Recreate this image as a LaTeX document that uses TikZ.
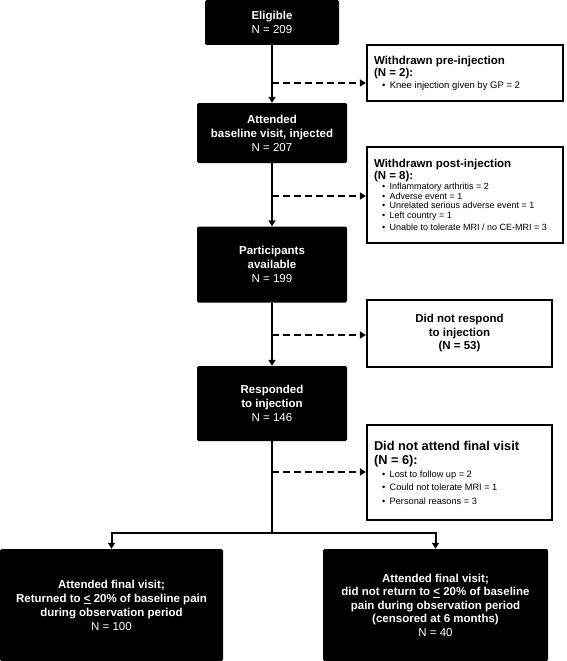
\documentclass[tikz,border=0pt]{standalone}
\usepackage{fontspec}
\setmainfont{Liberation Sans}
\usetikzlibrary{arrows.meta}
\newcommand\blt[1]{\hspace*{8pt}\textbullet\hspace{4.5pt}#1}
\newcommand\nreg[1]{{\mdseries #1}}
\begin{document}
\begin{tikzpicture}[x=1pt,y=-1pt,
  blackbox/.style={fill=black, text=white, draw=none, rounded corners=1.5pt, align=center,
    font=\fontsize{11.5}{14}\selectfont\bfseries, inner sep=0pt},
  sidebox/.style={draw=black, line width=2.2pt, fill=white, align=flush left, inner xsep=7pt, inner ysep=0pt,
    minimum width=196pt, text width=182pt, font=\fontsize{11.5}{12}\selectfont},
  plainbox/.style={draw=black, line width=2.2pt, fill=white, align=center, inner sep=0pt,
    font=\fontsize{11.5}{13.5}\selectfont\bfseries},
  flow/.style={line width=2pt, -{Triangle[width=7pt,length=6pt]}},
  side/.style={line width=2pt, dash pattern=on 7pt off 4pt, -{Triangle[width=7pt,length=6pt]}},
  trunk/.style={line width=2pt}
]
\useasboundingbox (0,0) rectangle (567,661);

% main column
\node[blackbox, minimum width=134pt, minimum height=45pt] (elig) at (272,22.5)
  {Eligible\\\nreg{N = 209}};
\node[blackbox, minimum width=150pt, minimum height=60pt] (base) at (272,133)
  {Attended\\baseline visit, injected\\\nreg{N = 207}};
\node[blackbox, minimum width=150pt, minimum height=76pt] (part) at (272,264.5)
  {Participants\\available\\\nreg{N = 199}};
\node[blackbox, minimum width=150pt, minimum height=75pt] (resp) at (272,403.5)
  {Responded\\to injection\\\nreg{N = 146}};

% side boxes
\node[sidebox, minimum height=56pt] (pre) at (465,73)
  {\textbf{Withdrawn pre-injection}\\\textbf{(N = 2):}\\\fontsize{9.5}{10.5}\selectfont\blt{Knee injection given by GP = 2}};
\node[sidebox, minimum height=96pt] (post) at (465,195)
  {\textbf{Withdrawn post-injection}\\\textbf{(N = 8):}\\\fontsize{9}{9.8}\selectfont
   \blt{Inflammatory arthritis = 2}\\\blt{Adverse event = 1}\\\blt{Unrelated serious adverse event = 1}\\
   \blt{Left country = 1}\\\blt{Unable to tolerate MRI / no CE-MRI = 3}};
\node[plainbox, minimum width=185pt, minimum height=67pt] (nresp) at (459.5,333.5)
  {Did not respond\\to injection\\(N = 53)};
\node[sidebox, minimum width=185pt, text width=171pt, minimum height=95pt, font=\fontsize{12.8}{14}\selectfont] (natt) at (459.5,472.5)
  {\textbf{Did not attend final visit}\\\textbf{(N = 6):}\\\fontsize{9.2}{13}\selectfont
   \blt{Lost to follow up = 2}\\\blt{Could not tolerate MRI = 1}\\\blt{Personal reasons = 3}};

% bottom boxes
\node[blackbox, minimum width=223pt, minimum height=112pt] (fin1) at (111.5,605)
  {Attended final visit;\\Returned to \underline{<} 20\% of baseline pain\\during observation period\\\nreg{N = 100}};
\node[blackbox, minimum width=225pt, minimum height=112pt, font=\fontsize{11.5}{13.5}\selectfont\bfseries] (fin2) at (435.5,605)
  {Attended final visit;\\did not return to \underline{<} 20\% of baseline\\pain during observation period\\(censored at 6 months)\\\nreg{N = 40}};

% connectors
\draw[flow] (elig) -- (base);
\draw[flow] (base) -- (part);
\draw[flow] (part) -- (resp);

\coordinate (d1) at (272,83);
\coordinate (d2) at (272,196);
\coordinate (d3) at (272,335);
\coordinate (d4) at (272,472);
\draw[side] (d1) -- (d1 -| pre.west);
\draw[side] (d2) -- (d2 -| post.west);
\draw[side] (d3) -- (d3 -| nresp.west);
\draw[side] (d4) -- (d4 -| natt.west);

\coordinate (split) at (272,533);
\draw[trunk] (resp.south) -- (split);
\draw[flow] (split) -| (fin1.north);
\draw[flow] (split) -| (fin2.north);
\end{tikzpicture}
\end{document}
